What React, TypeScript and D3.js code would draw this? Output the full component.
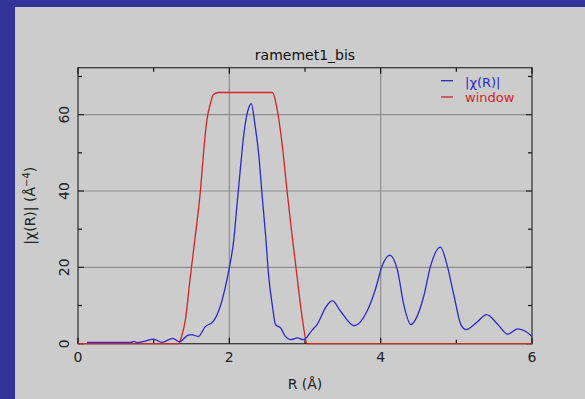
import React from "react";
import * as d3 from "d3";

const chartTitle = "ramemet1_bis";
const xTicksMajor = [0, 2, 4, 6];
const xTicksMinor = [1, 3, 5];
const yTicksMajor = [0, 20, 40, 60];
const yTicksMinor = [10, 30, 50, 70];

const chiR = [0.12, 0.7, 0.74, 0.78, 0.87, 1.0, 1.11, 1.25, 1.34, 1.45, 1.5, 1.59, 1.68, 1.79, 1.88, 1.95, 2.0, 2.06, 2.1, 2.15, 2.19, 2.26, 2.29, 2.34, 2.39, 2.43, 2.48, 2.52, 2.57, 2.61, 2.68, 2.74, 2.81, 2.9, 2.98, 3.1, 3.16, 3.27, 3.36, 3.47, 3.65, 3.82, 3.93, 4.02, 4.12, 4.22, 4.31, 4.4, 4.46, 4.57, 4.66, 4.79, 4.88, 4.97, 5.06, 5.13, 5.26, 5.4, 5.55, 5.68, 5.81, 5.92, 6.0];
const chiVal = [0.35, 0.35, 0.6, 0.3, 0.6, 1.2, 0.35, 1.4, 0.5, 2.2, 2.4, 1.9, 4.4, 5.9, 9.8, 15.1, 19.9, 27.4, 36.1, 46.7, 54.6, 62.0, 62.9, 57.2, 49.3, 39.6, 28.2, 17.7, 9.8, 5.0, 4.1, 1.9, 1.05, 1.5, 1.05, 3.7, 5.0, 9.4, 11.3, 8.5, 4.7, 8.5, 14.2, 20.4, 23.2, 19.4, 9.8, 5.0, 6.3, 12.5, 20.4, 25.3, 20.4, 12.5, 5.0, 3.7, 5.4, 7.6, 5.0, 2.5, 3.9, 3.2, 1.9];

const winR = [0, 1.33, 1.37, 1.42, 1.48, 1.55, 1.62, 1.66, 1.7, 1.75, 1.79, 1.86, 2.57, 2.63, 2.7, 2.76, 2.83, 2.9, 2.96, 3.03, 6.0];
const winVal = [0, 0, 2.0, 6.3, 16.8, 28.2, 40.5, 50.2, 58.1, 62.9, 65.3, 65.8, 65.8, 61.6, 51.9, 40.5, 28.2, 16.8, 7.2, 0, 0];

const W = 585, H = 399;
const x = d3.scaleLinear().domain([0, 6]).range([78, 532]);
const y = d3.scaleLinear().domain([0, 72.3]).range([343.7, 67.7]);

export default function App() {
  const blueLine = d3.line<number>().x((d, i) => x(chiR[i])).y((d) => y(d)).curve(d3.curveMonotoneX);
  const redLine = d3.line<number>().x((d, i) => x(winR[i])).y((d) => y(d)).curve(d3.curveMonotoneX);
  const [x0, x1] = x.range();
  const [y0, y1] = y.range();
  const font = "DejaVu Sans, sans-serif";
  const frame = "#3a3a3a";
  return (
    <svg width={W} height={H} style={{ position: "fixed", left: 0, top: 0 }} fontFamily={font}>
      <rect x={0} y={0} width={W} height={H} fill="#333399" />
      <rect x={15} y={7} width={W - 15} height={H - 7} fill="#cccccc" />
      {xTicksMajor.filter((t) => t > 0 && t < 6).map((t) => (
        <line key={"gx" + t} x1={x(t)} x2={x(t)} y1={y1} y2={y0} stroke="#8e8e8e" strokeWidth={1.2} />
      ))}
      {yTicksMajor.filter((t) => t > 0).map((t) => (
        <line key={"gy" + t} x1={x0} x2={x1} y1={y(t)} y2={y(t)} stroke="#8e8e8e" strokeWidth={1.2} />
      ))}
      <rect x={x0} y={y1} width={x1 - x0} height={y0 - y1} fill="none" stroke={frame} strokeWidth={1.3} />
      {xTicksMajor.map((t) => (
        <g key={"tx" + t}>
          <line x1={x(t)} x2={x(t)} y1={y0} y2={y0 - 6} stroke="#111" strokeWidth={1.2} />
          <line x1={x(t)} x2={x(t)} y1={y1} y2={y1 + 6} stroke="#111" strokeWidth={1.2} />
        </g>
      ))}
      {xTicksMinor.map((t) => (
        <g key={"mx" + t}>
          <line x1={x(t)} x2={x(t)} y1={y0} y2={y0 - 4} stroke="#111" strokeWidth={1.2} />
          <line x1={x(t)} x2={x(t)} y1={y1} y2={y1 + 4} stroke="#111" strokeWidth={1.2} />
        </g>
      ))}
      {yTicksMajor.map((t) => (
        <g key={"ty" + t}>
          <line x1={x0} x2={x0 + 6} y1={y(t)} y2={y(t)} stroke="#222" strokeWidth={1.2} />
          <line x1={x1} x2={x1 - 6} y1={y(t)} y2={y(t)} stroke="#222" strokeWidth={1.2} />
        </g>
      ))}
      {yTicksMinor.map((t) => (
        <g key={"my" + t}>
          <line x1={x0} x2={x0 + 4} y1={y(t)} y2={y(t)} stroke="#111" strokeWidth={1.2} />
          <line x1={x1} x2={x1 - 4} y1={y(t)} y2={y(t)} stroke="#111" strokeWidth={1.2} />
        </g>
      ))}
      <path d={redLine(winVal) || ""} fill="none" stroke="#d42424" strokeWidth={1.3} />
      <path d={blueLine(chiVal) || ""} fill="none" stroke="#2a2acc" strokeWidth={1.3} />
      {xTicksMajor.map((t) => (
        <text key={"lx" + t} x={x(t)} y={362} textAnchor="middle" fontSize={14} fill="#222">{t}</text>
      ))}
      {yTicksMajor.map((t) => (
        <text key={"ly" + t} transform={`translate(69,${y(t)}) rotate(-90)`} textAnchor="middle" fontSize={14} fill="#222">{t}</text>
      ))}
      <text x={(x0 + x1) / 2} y={60} textAnchor="middle" fontSize={14} fill="#111">{chartTitle}</text>
      <text x={(x0 + x1) / 2} y={389} textAnchor="middle" fontSize={14} fill="#222">R (Å)</text>
      <text transform={`translate(35,${(y0 + y1) / 2}) rotate(-90)`} textAnchor="middle" fontSize={14} fill="#222">
        |χ(R)| (Å<tspan dy={-5} fontSize={10}>−4</tspan><tspan dy={5}>)</tspan>
      </text>
      <line x1={441} x2={453} y1={80.7} y2={80.7} stroke="#2a2acc" strokeWidth={1.3} />
      <text x={465} y={86.5} fontSize={13} fill="#2a2acc">|χ(R)|</text>
      <line x1={441} x2={453} y1={97} y2={97} stroke="#d42424" strokeWidth={1.3} />
      <text x={465} y={101.5} fontSize={13} fill="#d42424">window</text>
    </svg>
  );
}
